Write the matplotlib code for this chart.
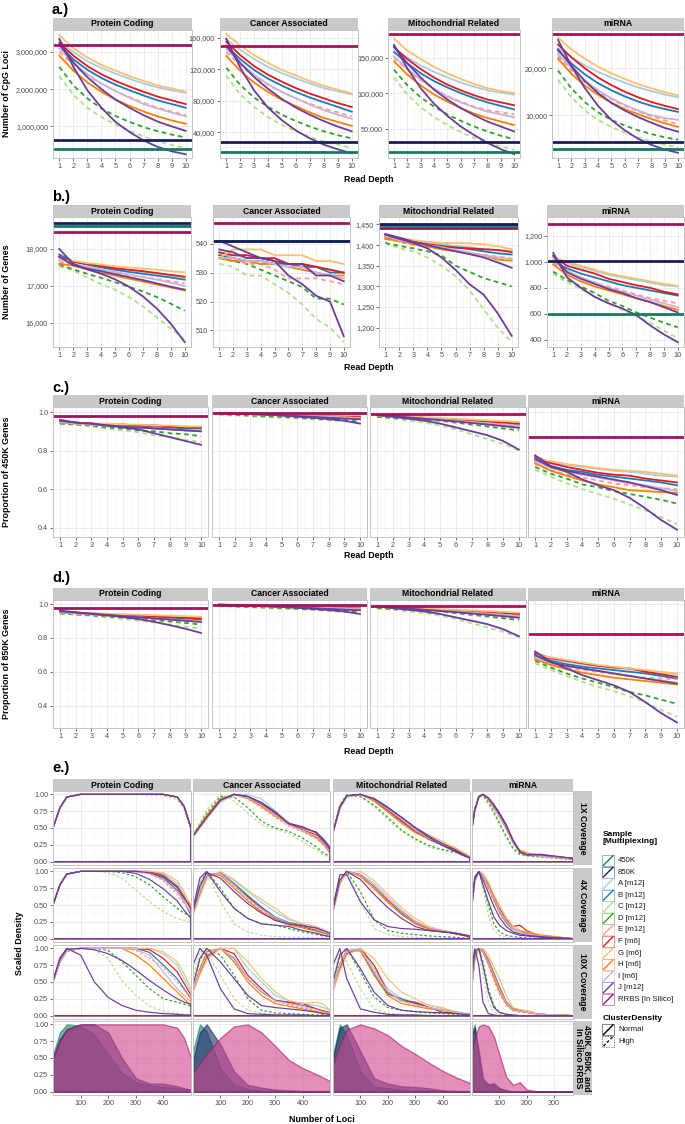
import numpy as np
import matplotlib
matplotlib.use("Agg")
import matplotlib.pyplot as plt
from matplotlib.patches import Rectangle

plt.rcParams['font.family'] = ['Liberation Sans', 'DejaVu Sans']

W, H = 685, 1124
DEPTH = np.arange(1, 11)
FACETS = ["Protein Coding", "Cancer Associated", "Mitochondrial Related", "miRNA"]
SAMPLES = ["A", "B", "C", "D", "E", "F", "G", "H", "I", "J", "J2"]
DASHED = {"C", "D", "E"}
COL = {"450K": "#137a62", "850K": "#161f5c", "RRBS": "#a3135b",
       "A": "#a6cee3", "B": "#1f78b4", "C": "#b2df8a", "D": "#33a02c",
       "E": "#fb9a99", "F": "#e31a1c", "G": "#fdbf6f", "H": "#ff7f00",
       "I": "#cab2d6", "J": "#6a3d9a", "J2": "#6a3d9a"}
FILL = {"450K": "#1d7f7a", "850K": "#1c2b66", "RRBS": "#d2438f"}

# ---------------- a.) number of CpG loci (thousands) ----------------
a_pc = dict(
    A=[3300, 3000, 2750, 2570, 2420, 2280, 2150, 2050, 1970, 1900],
    B=[3200, 2800, 2520, 2300, 2120, 1970, 1830, 1700, 1600, 1500],
    C=[2350, 1850, 1500, 1250, 1050, 880, 730, 600, 500, 420],
    D=[2600, 2100, 1750, 1480, 1280, 1120, 980, 870, 780, 700],
    E=[3000, 2650, 2350, 2150, 1950, 1780, 1630, 1500, 1400, 1300],
    F=[3250, 2900, 2620, 2400, 2220, 2070, 1930, 1800, 1700, 1600],
    G=[3450, 3100, 2850, 2650, 2500, 2350, 2220, 2100, 2020, 1930],
    H=[2900, 2500, 2180, 1930, 1720, 1550, 1400, 1270, 1160, 1070],
    I=[3100, 2700, 2400, 2150, 1950, 1770, 1600, 1480, 1370, 1270],
    J=[3350, 2600, 1970, 1500, 1120, 850, 620, 450, 330, 250],
    J2=[3200, 2720, 2320, 2000, 1720, 1500, 1300, 1130, 1000, 880])
a_ca = dict(
    A=[158, 145, 133, 123, 115, 108, 102, 96, 92, 88],
    B=[150, 133, 119, 108, 99, 91, 84, 78, 72, 66],
    C=[112, 88, 72, 59, 49, 41, 34, 28, 24, 20],
    D=[122, 100, 84, 72, 62, 54, 47, 41, 36, 32],
    E=[142, 125, 111, 100, 91, 83, 76, 70, 65, 60],
    F=[155, 138, 124, 113, 104, 96, 89, 83, 77, 72],
    G=[165, 150, 138, 128, 119, 112, 105, 99, 94, 89],
    H=[137, 118, 103, 91, 81, 73, 65, 58, 53, 48],
    I=[146, 128, 113, 101, 91, 83, 75, 68, 62, 57],
    J=[159, 122, 93, 71, 55, 42, 32, 24, 18, 13],
    J2=[150, 128, 110, 95, 82, 71, 62, 54, 47, 41])
a_mr = dict(
    A=[162, 150, 139, 130, 122, 115, 109, 104, 101, 98],
    B=[158, 142, 128, 117, 108, 100, 93, 87, 82, 77],
    C=[122, 98, 80, 66, 55, 45, 37, 30, 25, 20],
    D=[133, 111, 94, 81, 70, 61, 53, 46, 40, 35],
    E=[150, 133, 118, 106, 96, 88, 81, 76, 73, 70],
    F=[165, 148, 134, 122, 112, 104, 97, 91, 87, 83],
    G=[177, 160, 148, 137, 128, 120, 113, 107, 103, 100],
    H=[145, 126, 111, 98, 88, 79, 71, 65, 60, 55],
    I=[152, 134, 119, 106, 95, 87, 80, 74, 70, 66],
    J=[168, 135, 107, 85, 68, 53, 41, 30, 21, 14],
    J2=[166, 142, 122, 105, 91, 79, 69, 60, 53, 46])
a_mi = dict(
    A=[24.2, 22.3, 20.6, 19.2, 18.0, 16.9, 15.9, 15.1, 14.4, 13.8],
    B=[23.7, 21.0, 18.7, 16.8, 15.3, 14.0, 12.9, 12.0, 11.3, 10.7],
    C=[17.5, 13.8, 11.0, 9.0, 7.5, 6.3, 5.3, 4.4, 3.7, 3.2],
    D=[19.5, 15.7, 12.8, 10.6, 9.0, 7.8, 6.8, 6.0, 5.3, 4.8],
    E=[22.5, 19.5, 17.0, 15.0, 13.4, 12.0, 10.8, 9.8, 8.9, 8.1],
    F=[25.0, 22.3, 20.0, 18.0, 16.4, 15.0, 13.8, 12.8, 12.0, 11.3],
    G=[26.5, 24.0, 22.0, 20.3, 18.9, 17.7, 16.6, 15.7, 14.9, 14.2],
    H=[22.0, 18.8, 16.3, 14.3, 12.7, 11.3, 10.2, 9.2, 8.3, 7.5],
    I=[23.0, 20.0, 17.4, 15.3, 13.6, 12.2, 11.0, 10.0, 9.4, 9.0],
    J=[26.0, 20.5, 15.8, 12.0, 9.0, 6.8, 5.0, 3.7, 2.7, 2.0],
    J2=[24.0, 20.5, 17.3, 14.7, 12.6, 11.0, 9.6, 8.4, 7.3, 6.5])
a_ref = [{"450K": 400, "850K": 630, "RRBS": 3200},
         {"450K": 15, "850K": 27, "RRBS": 149},
         {"450K": 17.6, "850K": 31.6, "RRBS": 183},
         {"450K": 2.8, "850K": 4.2, "RRBS": 27.3}]

# ---------------- b.) number of genes ----------------
b_pc = dict(
    A=[17720, 17650, 17590, 17540, 17480, 17430, 17380, 17330, 17280, 17230],
    B=[17850, 17660, 17580, 17500, 17440, 17380, 17330, 17280, 17230, 17170],
    C=[17530, 17420, 17230, 17050, 16900, 16700, 16450, 16150, 15850, 15550],
    D=[17580, 17450, 17330, 17220, 17100, 16980, 16850, 16700, 16520, 16330],
    E=[17650, 17580, 17500, 17430, 17360, 17300, 17250, 17190, 17130, 17070],
    F=[17780, 17650, 17600, 17540, 17480, 17440, 17400, 17350, 17300, 17250],
    G=[17700, 17680, 17620, 17580, 17530, 17500, 17470, 17440, 17400, 17370],
    H=[17600, 17550, 17450, 17360, 17280, 17200, 17120, 17040, 16960, 16880],
    I=[17720, 17600, 17520, 17450, 17380, 17310, 17240, 17170, 17090, 17000],
    J=[18000, 17600, 17450, 17330, 17180, 16980, 16720, 16390, 15980, 15480],
    J2=[17800, 17560, 17470, 17400, 17320, 17240, 17160, 17070, 16980, 16900])
b_ca = dict(
    A=[536, 536, 535, 535, 534, 533, 532, 532, 531, 530],
    B=[536, 535, 534, 534, 533, 533, 532, 532, 530, 530],
    C=[533, 532, 529, 529, 526, 523, 519, 514, 511, 506],
    D=[535, 534, 533, 531, 529, 527, 525, 521, 521, 519],
    E=[537, 535, 533, 533, 531, 528, 528, 528, 527, 526],
    F=[537, 536, 536, 535, 535, 533, 533, 532, 531, 530],
    G=[535, 538, 538, 538, 536, 536, 536, 534, 534, 533],
    H=[535, 534, 534, 533, 533, 532, 531, 530, 529, 529],
    I=[535, 535, 534, 534, 533, 532, 532, 530, 529, 528],
    J=[541, 539, 537, 535, 534, 529, 526, 522, 520, 508],
    J2=[538, 537, 535, 535, 534, 533, 533, 529, 529, 527])
b_mr = dict(
    A=[1425, 1415, 1410, 1405, 1402, 1398, 1395, 1390, 1388, 1385],
    B=[1418, 1410, 1404, 1400, 1396, 1394, 1390, 1385, 1380, 1377],
    C=[1405, 1392, 1385, 1370, 1350, 1325, 1290, 1245, 1200, 1165],
    D=[1405, 1398, 1392, 1385, 1375, 1350, 1335, 1320, 1310, 1300],
    E=[1415, 1408, 1400, 1395, 1390, 1385, 1380, 1376, 1372, 1368],
    F=[1420, 1412, 1408, 1402, 1398, 1394, 1392, 1390, 1388, 1383],
    G=[1420, 1418, 1412, 1408, 1405, 1405, 1404, 1402, 1397, 1390],
    H=[1415, 1410, 1402, 1397, 1390, 1385, 1380, 1375, 1365, 1362],
    I=[1422, 1412, 1405, 1400, 1395, 1388, 1382, 1375, 1370, 1365],
    J=[1425, 1415, 1405, 1392, 1370, 1340, 1305, 1280, 1235, 1180],
    J2=[1427, 1418, 1408, 1400, 1392, 1385, 1378, 1370, 1358, 1345])
b_mi = dict(
    A=[1020, 990, 960, 930, 900, 880, 860, 840, 820, 810],
    B=[1000, 950, 910, 880, 850, 820, 800, 780, 760, 740],
    C=[910, 840, 790, 730, 680, 630, 580, 530, 470, 410],
    D=[925, 860, 810, 760, 700, 660, 610, 570, 530, 495],
    E=[990, 930, 880, 840, 810, 780, 750, 720, 700, 680],
    F=[1040, 970, 940, 910, 870, 845, 820, 800, 770, 750],
    G=[1040, 1000, 970, 940, 910, 890, 870, 850, 830, 815],
    H=[980, 900, 850, 810, 780, 750, 720, 690, 660, 630],
    I=[1000, 930, 880, 840, 800, 770, 740, 710, 680, 650],
    J=[1070, 880, 800, 730, 680, 640, 590, 510, 440, 380],
    J2=[1050, 920, 870, 830, 790, 760, 720, 690, 650, 610])
b_ref = [{"450K": 18620, "850K": 18690, "RRBS": 18460},
         {"450K": 541, "850K": 541, "RRBS": 547},
         {"450K": 1448, "850K": 1452, "RRBS": 1442},
         {"450K": 600, "850K": 1010, "RRBS": 1296}]

# ---------------- c.) proportion of 450K genes ----------------
c_pc = dict(
    A=[0.950, 0.945, 0.940, 0.935, 0.935, 0.930, 0.930, 0.925, 0.925, 0.920],
    B=[0.950, 0.945, 0.940, 0.935, 0.930, 0.930, 0.925, 0.920, 0.915, 0.915],
    C=[0.940, 0.935, 0.925, 0.915, 0.905, 0.895, 0.880, 0.870, 0.855, 0.845],
    D=[0.940, 0.935, 0.930, 0.920, 0.915, 0.905, 0.900, 0.890, 0.885, 0.875],
    E=[0.945, 0.940, 0.935, 0.930, 0.925, 0.920, 0.915, 0.910, 0.905, 0.900],
    F=[0.950, 0.945, 0.940, 0.935, 0.935, 0.930, 0.930, 0.925, 0.920, 0.920],
    G=[0.950, 0.945, 0.940, 0.940, 0.935, 0.935, 0.930, 0.930, 0.925, 0.925],
    H=[0.945, 0.940, 0.935, 0.930, 0.925, 0.920, 0.915, 0.910, 0.905, 0.900],
    I=[0.950, 0.940, 0.935, 0.930, 0.925, 0.920, 0.915, 0.910, 0.905, 0.905],
    J=[0.960, 0.945, 0.940, 0.930, 0.920, 0.910, 0.890, 0.870, 0.850, 0.830],
    J2=[0.955, 0.945, 0.940, 0.930, 0.925, 0.920, 0.915, 0.910, 0.905, 0.900])
c_ca = dict(
    A=[0.995, 0.993, 0.991, 0.989, 0.987, 0.985, 0.983, 0.981, 0.979, 0.977],
    B=[0.995, 0.992, 0.990, 0.988, 0.986, 0.984, 0.981, 0.978, 0.975, 0.972],
    C=[0.985, 0.982, 0.978, 0.975, 0.971, 0.967, 0.962, 0.957, 0.951, 0.945],
    D=[0.990, 0.986, 0.982, 0.978, 0.975, 0.971, 0.967, 0.962, 0.957, 0.951],
    E=[0.993, 0.990, 0.987, 0.984, 0.981, 0.978, 0.975, 0.971, 0.968, 0.965],
    F=[0.996, 0.994, 0.992, 0.990, 0.988, 0.986, 0.984, 0.981, 0.979, 0.976],
    G=[0.996, 0.995, 0.994, 0.992, 0.991, 0.990, 0.988, 0.986, 0.985, 0.983],
    H=[0.994, 0.991, 0.989, 0.986, 0.984, 0.981, 0.978, 0.976, 0.973, 0.970],
    I=[0.995, 0.992, 0.989, 0.987, 0.984, 0.981, 0.978, 0.975, 0.972, 0.968],
    J=[0.995, 0.992, 0.990, 0.986, 0.982, 0.976, 0.970, 0.963, 0.955, 0.940],
    J2=[0.995, 0.993, 0.990, 0.987, 0.983, 0.979, 0.975, 0.970, 0.966, 0.962])
c_mr = dict(
    A=[0.985, 0.980, 0.975, 0.970, 0.965, 0.960, 0.955, 0.950, 0.945, 0.940],
    B=[0.985, 0.979, 0.973, 0.967, 0.962, 0.956, 0.950, 0.944, 0.938, 0.932],
    C=[0.975, 0.965, 0.955, 0.945, 0.930, 0.910, 0.885, 0.860, 0.835, 0.800],
    D=[0.975, 0.970, 0.965, 0.960, 0.955, 0.945, 0.935, 0.925, 0.915, 0.905],
    E=[0.982, 0.976, 0.970, 0.964, 0.958, 0.951, 0.944, 0.937, 0.930, 0.923],
    F=[0.985, 0.980, 0.975, 0.970, 0.965, 0.960, 0.955, 0.950, 0.945, 0.940],
    G=[0.985, 0.981, 0.977, 0.973, 0.969, 0.965, 0.961, 0.957, 0.953, 0.948],
    H=[0.983, 0.977, 0.971, 0.965, 0.959, 0.953, 0.947, 0.941, 0.935, 0.930],
    I=[0.984, 0.978, 0.972, 0.966, 0.960, 0.954, 0.948, 0.942, 0.936, 0.928],
    J=[0.985, 0.975, 0.965, 0.955, 0.940, 0.920, 0.900, 0.880, 0.850, 0.805],
    J2=[0.985, 0.979, 0.972, 0.965, 0.958, 0.951, 0.943, 0.935, 0.927, 0.918])
c_mi = dict(
    A=[0.755, 0.735, 0.725, 0.715, 0.705, 0.695, 0.690, 0.680, 0.670, 0.665],
    B=[0.750, 0.720, 0.700, 0.690, 0.675, 0.665, 0.655, 0.645, 0.635, 0.620],
    C=[0.700, 0.665, 0.630, 0.600, 0.575, 0.550, 0.520, 0.490, 0.455, 0.420],
    D=[0.715, 0.680, 0.655, 0.625, 0.610, 0.590, 0.575, 0.560, 0.545, 0.525],
    E=[0.730, 0.700, 0.675, 0.660, 0.645, 0.630, 0.620, 0.610, 0.605, 0.600],
    F=[0.770, 0.735, 0.715, 0.700, 0.685, 0.675, 0.670, 0.655, 0.645, 0.635],
    G=[0.760, 0.745, 0.730, 0.720, 0.710, 0.700, 0.695, 0.690, 0.680, 0.670],
    H=[0.735, 0.695, 0.670, 0.645, 0.625, 0.610, 0.595, 0.590, 0.585, 0.580],
    I=[0.745, 0.710, 0.690, 0.675, 0.660, 0.645, 0.630, 0.620, 0.605, 0.590],
    J=[0.775, 0.720, 0.690, 0.650, 0.620, 0.595, 0.555, 0.500, 0.440, 0.390],
    J2=[0.760, 0.715, 0.695, 0.680, 0.665, 0.650, 0.635, 0.615, 0.595, 0.570])
c_ref = [{"RRBS": 0.978}, {"RRBS": 0.996}, {"RRBS": 0.99}, {"RRBS": 0.871}]

# ---------------- d.) proportion of 850K genes ----------------
d_pc = dict(
    A=[0.955, 0.950, 0.945, 0.941, 0.937, 0.933, 0.929, 0.925, 0.921, 0.918],
    B=[0.955, 0.949, 0.943, 0.938, 0.933, 0.928, 0.923, 0.918, 0.914, 0.910],
    C=[0.945, 0.938, 0.931, 0.922, 0.913, 0.903, 0.892, 0.880, 0.868, 0.855],
    D=[0.945, 0.940, 0.934, 0.928, 0.921, 0.914, 0.906, 0.898, 0.889, 0.880],
    E=[0.950, 0.944, 0.938, 0.932, 0.926, 0.920, 0.914, 0.908, 0.902, 0.897],
    F=[0.955, 0.950, 0.945, 0.940, 0.936, 0.932, 0.928, 0.924, 0.920, 0.916],
    G=[0.955, 0.951, 0.947, 0.944, 0.941, 0.938, 0.935, 0.932, 0.929, 0.926],
    H=[0.952, 0.946, 0.940, 0.934, 0.928, 0.922, 0.916, 0.910, 0.905, 0.900],
    I=[0.953, 0.947, 0.941, 0.935, 0.929, 0.923, 0.917, 0.911, 0.905, 0.900],
    J=[0.962, 0.952, 0.943, 0.934, 0.924, 0.912, 0.896, 0.876, 0.855, 0.830],
    J2=[0.958, 0.951, 0.944, 0.937, 0.930, 0.923, 0.916, 0.909, 0.902, 0.895])
d_ca = dict(
    A=[0.997, 0.995, 0.993, 0.991, 0.989, 0.987, 0.985, 0.983, 0.981, 0.979],
    B=[0.997, 0.994, 0.992, 0.990, 0.988, 0.986, 0.983, 0.980, 0.977, 0.974],
    C=[0.988, 0.985, 0.981, 0.978, 0.974, 0.970, 0.965, 0.960, 0.954, 0.948],
    D=[0.992, 0.988, 0.984, 0.981, 0.978, 0.974, 0.970, 0.965, 0.960, 0.954],
    E=[0.995, 0.992, 0.989, 0.986, 0.983, 0.980, 0.977, 0.973, 0.970, 0.967],
    F=[0.998, 0.996, 0.994, 0.992, 0.990, 0.988, 0.986, 0.983, 0.981, 0.978],
    G=[0.998, 0.997, 0.996, 0.994, 0.993, 0.992, 0.990, 0.988, 0.987, 0.985],
    H=[0.996, 0.993, 0.991, 0.988, 0.986, 0.983, 0.980, 0.978, 0.975, 0.972],
    I=[0.997, 0.994, 0.991, 0.989, 0.986, 0.983, 0.980, 0.977, 0.974, 0.970],
    J=[0.997, 0.994, 0.992, 0.988, 0.984, 0.978, 0.972, 0.965, 0.957, 0.942],
    J2=[0.997, 0.995, 0.992, 0.989, 0.985, 0.981, 0.977, 0.972, 0.968, 0.964])
d_mr = dict(
    A=[0.987, 0.982, 0.977, 0.972, 0.967, 0.962, 0.957, 0.952, 0.947, 0.942],
    B=[0.987, 0.981, 0.975, 0.969, 0.964, 0.958, 0.952, 0.946, 0.940, 0.934],
    C=[0.977, 0.967, 0.957, 0.947, 0.932, 0.912, 0.887, 0.862, 0.837, 0.805],
    D=[0.977, 0.972, 0.967, 0.962, 0.957, 0.947, 0.937, 0.927, 0.917, 0.907],
    E=[0.984, 0.978, 0.972, 0.966, 0.960, 0.953, 0.946, 0.939, 0.932, 0.925],
    F=[0.987, 0.982, 0.977, 0.972, 0.967, 0.962, 0.957, 0.952, 0.947, 0.942],
    G=[0.987, 0.983, 0.979, 0.975, 0.971, 0.967, 0.963, 0.959, 0.955, 0.950],
    H=[0.985, 0.979, 0.973, 0.967, 0.961, 0.955, 0.949, 0.943, 0.937, 0.932],
    I=[0.986, 0.980, 0.974, 0.968, 0.962, 0.956, 0.950, 0.944, 0.938, 0.930],
    J=[0.987, 0.977, 0.967, 0.957, 0.942, 0.922, 0.902, 0.882, 0.852, 0.810],
    J2=[0.987, 0.981, 0.974, 0.967, 0.960, 0.953, 0.945, 0.937, 0.929, 0.920])
d_mi = dict(
    A=[0.695, 0.675, 0.660, 0.645, 0.635, 0.625, 0.615, 0.605, 0.595, 0.585],
    B=[0.690, 0.665, 0.645, 0.630, 0.620, 0.610, 0.600, 0.590, 0.575, 0.560],
    C=[0.650, 0.610, 0.575, 0.540, 0.510, 0.485, 0.455, 0.420, 0.375, 0.335],
    D=[0.665, 0.625, 0.590, 0.560, 0.535, 0.510, 0.480, 0.460, 0.435, 0.410],
    E=[0.675, 0.645, 0.625, 0.610, 0.600, 0.585, 0.575, 0.565, 0.560, 0.555],
    F=[0.710, 0.680, 0.665, 0.650, 0.635, 0.625, 0.620, 0.600, 0.585, 0.570],
    G=[0.700, 0.685, 0.670, 0.655, 0.640, 0.630, 0.620, 0.610, 0.600, 0.590],
    H=[0.675, 0.640, 0.615, 0.595, 0.580, 0.565, 0.555, 0.545, 0.535, 0.525],
    I=[0.685, 0.655, 0.635, 0.620, 0.605, 0.590, 0.575, 0.560, 0.550, 0.535],
    J=[0.720, 0.660, 0.620, 0.580, 0.550, 0.520, 0.480, 0.420, 0.355, 0.300],
    J2=[0.700, 0.655, 0.635, 0.620, 0.605, 0.590, 0.575, 0.560, 0.545, 0.530])
d_ref = [{"RRBS": 0.98}, {"RRBS": 0.998}, {"RRBS": 0.99}, {"RRBS": 0.825}]

# ---------------- e.) scaled density of loci per gene ----------------
XG = [0, 25, 50, 100, 150, 200, 250, 300, 350, 400, 450, 475, 500]
XM = [0, 10, 25, 40, 60, 80, 100, 125, 150, 175, 200, 250, 369]

plateau_1x = [0.50, 0.80, 0.96, 1.00, 1.00, 1.00, 1.00, 1.00, 1.00, 1.00, 0.96, 0.82, 0.50]
e1_pc = {s: plateau_1x for s in SAMPLES}
e1_pc["C"] = [0.50, 0.80, 0.96, 1.00, 1.00, 1.00, 1.00, 1.00, 0.99, 0.98, 0.92, 0.78, 0.46]
e1_ca = dict(
    A=[0.38, 0.50, 0.63, 0.88, 0.99, 1.00, 0.93, 0.76, 0.58, 0.47, 0.36, 0.27, 0.17],
    B=[0.37, 0.51, 0.65, 0.91, 1.00, 0.95, 0.84, 0.70, 0.56, 0.47, 0.37, 0.29, 0.19],
    C=[0.42, 0.58, 0.77, 1.00, 0.90, 0.72, 0.55, 0.48, 0.42, 0.30, 0.18, 0.10, 0.06],
    D=[0.40, 0.55, 0.72, 0.97, 0.96, 0.80, 0.60, 0.50, 0.45, 0.35, 0.22, 0.13, 0.08],
    E=[0.39, 0.53, 0.68, 0.93, 1.00, 0.93, 0.80, 0.66, 0.52, 0.44, 0.34, 0.25, 0.14],
    F=[0.38, 0.52, 0.66, 0.92, 1.00, 0.96, 0.85, 0.72, 0.56, 0.47, 0.40, 0.30, 0.16],
    G=[0.37, 0.50, 0.64, 0.90, 1.00, 0.97, 0.88, 0.74, 0.58, 0.49, 0.42, 0.33, 0.20],
    H=[0.39, 0.54, 0.69, 0.94, 1.00, 0.94, 0.82, 0.68, 0.55, 0.46, 0.36, 0.26, 0.13],
    I=[0.38, 0.52, 0.66, 0.92, 1.00, 0.95, 0.84, 0.70, 0.55, 0.46, 0.38, 0.28, 0.15],
    J=[0.38, 0.52, 0.66, 0.92, 1.00, 0.97, 0.88, 0.74, 0.56, 0.50, 0.44, 0.34, 0.22],
    J2=[0.38, 0.52, 0.66, 0.91, 1.00, 0.97, 0.87, 0.73, 0.57, 0.52, 0.43, 0.32, 0.19])
e1_mr = dict(
    A=[0.42, 0.78, 0.96, 1.00, 0.93, 0.79, 0.64, 0.48, 0.36, 0.26, 0.17, 0.12, 0.07],
    B=[0.43, 0.80, 0.97, 1.00, 0.91, 0.76, 0.60, 0.45, 0.33, 0.24, 0.15, 0.11, 0.06],
    C=[0.46, 0.85, 1.00, 0.96, 0.82, 0.62, 0.45, 0.32, 0.22, 0.16, 0.12, 0.09, 0.05],
    D=[0.45, 0.84, 0.99, 0.97, 0.84, 0.66, 0.47, 0.34, 0.24, 0.18, 0.14, 0.10, 0.06],
    E=[0.44, 0.81, 0.98, 1.00, 0.90, 0.74, 0.58, 0.44, 0.32, 0.24, 0.16, 0.11, 0.06],
    F=[0.43, 0.80, 0.97, 1.00, 0.92, 0.77, 0.61, 0.46, 0.34, 0.25, 0.16, 0.11, 0.06],
    G=[0.42, 0.78, 0.96, 1.00, 0.93, 0.80, 0.65, 0.50, 0.40, 0.30, 0.20, 0.14, 0.08],
    H=[0.44, 0.81, 0.98, 1.00, 0.90, 0.74, 0.57, 0.43, 0.34, 0.27, 0.18, 0.12, 0.06],
    I=[0.43, 0.80, 0.97, 1.00, 0.92, 0.78, 0.63, 0.47, 0.35, 0.26, 0.18, 0.12, 0.07],
    J=[0.44, 0.81, 0.98, 1.00, 0.94, 0.81, 0.66, 0.50, 0.36, 0.24, 0.14, 0.09, 0.05],
    J2=[0.44, 0.81, 0.98, 1.00, 0.93, 0.80, 0.66, 0.51, 0.38, 0.27, 0.17, 0.11, 0.06])
e1_mi = dict(
    A=[0.50, 0.75, 0.95, 1.00, 0.94, 0.82, 0.70, 0.52, 0.30, 0.15, 0.10, 0.08, 0.04],
    B=[0.50, 0.76, 0.96, 1.00, 0.93, 0.80, 0.68, 0.50, 0.28, 0.14, 0.10, 0.09, 0.05],
    C=[0.52, 0.80, 0.98, 0.98, 0.85, 0.70, 0.55, 0.35, 0.18, 0.10, 0.08, 0.07, 0.03],
    D=[0.52, 0.79, 0.98, 0.99, 0.88, 0.74, 0.58, 0.38, 0.20, 0.11, 0.09, 0.07, 0.03],
    E=[0.51, 0.77, 0.96, 1.00, 0.92, 0.79, 0.66, 0.48, 0.27, 0.14, 0.11, 0.08, 0.04],
    F=[0.50, 0.76, 0.96, 1.00, 0.93, 0.81, 0.69, 0.51, 0.30, 0.16, 0.12, 0.10, 0.04],
    G=[0.49, 0.74, 0.94, 1.00, 0.95, 0.84, 0.72, 0.55, 0.33, 0.17, 0.12, 0.09, 0.05],
    H=[0.50, 0.76, 0.96, 1.00, 0.93, 0.80, 0.68, 0.50, 0.29, 0.17, 0.13, 0.08, 0.04],
    I=[0.50, 0.76, 0.96, 1.00, 0.93, 0.81, 0.68, 0.51, 0.29, 0.14, 0.10, 0.08, 0.04],
    J=[0.50, 0.77, 0.97, 1.00, 0.95, 0.85, 0.73, 0.55, 0.32, 0.14, 0.10, 0.11, 0.05],
    J2=[0.50, 0.76, 0.96, 1.00, 0.94, 0.83, 0.71, 0.53, 0.31, 0.15, 0.10, 0.10, 0.05])

e2_pc = dict(
    A=[0.50, 0.80, 0.96, 1.00, 1.00, 1.00, 1.00, 1.00, 1.00, 0.96, 0.82, 0.66, 0.42],
    B=[0.50, 0.80, 0.96, 1.00, 1.00, 1.00, 1.00, 1.00, 0.98, 0.90, 0.72, 0.55, 0.35],
    C=[0.50, 0.80, 0.96, 1.00, 1.00, 0.98, 0.90, 0.72, 0.55, 0.40, 0.30, 0.27, 0.25],
    D=[0.50, 0.80, 0.96, 1.00, 1.00, 1.00, 0.98, 0.92, 0.80, 0.62, 0.45, 0.38, 0.33],
    E=[0.50, 0.80, 0.96, 1.00, 1.00, 1.00, 1.00, 1.00, 0.96, 0.86, 0.66, 0.52, 0.40],
    F=[0.50, 0.80, 0.96, 1.00, 1.00, 1.00, 1.00, 1.00, 1.00, 0.94, 0.78, 0.62, 0.44],
    G=[0.50, 0.80, 0.96, 1.00, 1.00, 1.00, 1.00, 1.00, 1.00, 0.98, 0.86, 0.70, 0.48],
    H=[0.50, 0.80, 0.96, 1.00, 1.00, 1.00, 1.00, 1.00, 0.97, 0.88, 0.70, 0.60, 0.50],
    I=[0.50, 0.80, 0.96, 1.00, 1.00, 1.00, 1.00, 1.00, 0.97, 0.88, 0.70, 0.55, 0.38],
    J=[0.50, 0.80, 0.96, 1.00, 1.00, 1.00, 1.00, 0.97, 0.88, 0.74, 0.56, 0.42, 0.30],
    J2=[0.50, 0.80, 0.96, 1.00, 1.00, 1.00, 1.00, 1.00, 0.98, 0.92, 0.76, 0.60, 0.45])
e2_ca = dict(
    A=[0.36, 0.64, 0.90, 1.00, 0.86, 0.70, 0.54, 0.40, 0.28, 0.22, 0.18, 0.14, 0.09],
    B=[0.37, 0.68, 0.93, 0.98, 0.82, 0.64, 0.47, 0.32, 0.24, 0.20, 0.15, 0.11, 0.07],
    C=[0.45, 0.85, 1.00, 0.55, 0.22, 0.10, 0.05, 0.03, 0.02, 0.02, 0.01, 0.01, 0.00],
    D=[0.42, 0.80, 1.00, 0.75, 0.45, 0.30, 0.22, 0.20, 0.15, 0.10, 0.06, 0.04, 0.03],
    E=[0.38, 0.70, 0.95, 0.96, 0.78, 0.58, 0.42, 0.30, 0.22, 0.18, 0.13, 0.10, 0.06],
    F=[0.38, 0.70, 0.95, 0.97, 0.80, 0.62, 0.45, 0.30, 0.22, 0.18, 0.12, 0.09, 0.07],
    G=[0.35, 0.62, 0.88, 1.00, 0.88, 0.72, 0.58, 0.45, 0.30, 0.22, 0.18, 0.12, 0.08],
    H=[0.39, 0.72, 0.96, 0.94, 0.75, 0.56, 0.40, 0.28, 0.20, 0.16, 0.11, 0.08, 0.05],
    I=[0.38, 0.70, 0.95, 0.97, 0.80, 0.60, 0.44, 0.31, 0.23, 0.19, 0.14, 0.10, 0.07],
    J=[0.45, 0.90, 1.00, 0.70, 0.45, 0.30, 0.22, 0.20, 0.18, 0.12, 0.08, 0.05, 0.03],
    J2=[0.40, 0.78, 0.98, 0.90, 0.70, 0.52, 0.38, 0.27, 0.22, 0.19, 0.16, 0.12, 0.08])
e2_mr = dict(
    A=[0.40, 0.82, 1.00, 0.96, 0.82, 0.62, 0.42, 0.26, 0.16, 0.12, 0.08, 0.06, 0.04],
    B=[0.41, 0.84, 1.00, 0.95, 0.78, 0.57, 0.38, 0.24, 0.15, 0.12, 0.07, 0.05, 0.03],
    C=[0.46, 0.90, 1.00, 0.55, 0.15, 0.06, 0.03, 0.02, 0.01, 0.01, 0.01, 0.00, 0.00],
    D=[0.44, 0.88, 1.00, 0.70, 0.28, 0.12, 0.08, 0.06, 0.04, 0.03, 0.02, 0.01, 0.01],
    E=[0.42, 0.85, 1.00, 0.92, 0.74, 0.54, 0.36, 0.22, 0.14, 0.10, 0.06, 0.04, 0.03],
    F=[0.41, 0.84, 1.00, 0.95, 0.78, 0.58, 0.40, 0.25, 0.15, 0.11, 0.07, 0.05, 0.04],
    G=[0.39, 0.80, 0.98, 1.00, 0.86, 0.66, 0.46, 0.30, 0.18, 0.12, 0.08, 0.06, 0.04],
    H=[0.42, 0.86, 1.00, 0.93, 0.74, 0.54, 0.36, 0.22, 0.14, 0.12, 0.08, 0.05, 0.03],
    I=[0.41, 0.84, 1.00, 0.95, 0.79, 0.59, 0.40, 0.25, 0.16, 0.12, 0.08, 0.06, 0.04],
    J=[0.48, 0.95, 0.95, 0.55, 0.28, 0.18, 0.15, 0.14, 0.12, 0.10, 0.08, 0.05, 0.03],
    J2=[0.43, 0.87, 1.00, 0.88, 0.66, 0.46, 0.30, 0.18, 0.12, 0.10, 0.08, 0.06, 0.04])
e2_mi = dict(
    A=[0.50, 0.85, 1.00, 0.95, 0.80, 0.62, 0.45, 0.27, 0.14, 0.10, 0.08, 0.04, 0.00],
    B=[0.50, 0.86, 1.00, 0.94, 0.78, 0.58, 0.40, 0.24, 0.14, 0.11, 0.08, 0.03, 0.00],
    C=[0.55, 0.90, 1.00, 0.75, 0.35, 0.12, 0.05, 0.02, 0.01, 0.01, 0.00, 0.00, 0.00],
    D=[0.53, 0.88, 1.00, 0.82, 0.48, 0.22, 0.10, 0.05, 0.03, 0.02, 0.01, 0.00, 0.00],
    E=[0.51, 0.86, 1.00, 0.92, 0.74, 0.55, 0.38, 0.22, 0.12, 0.09, 0.06, 0.03, 0.00],
    F=[0.50, 0.85, 1.00, 0.95, 0.80, 0.62, 0.45, 0.28, 0.18, 0.20, 0.12, 0.04, 0.00],
    G=[0.49, 0.84, 1.00, 0.97, 0.84, 0.66, 0.50, 0.32, 0.18, 0.12, 0.10, 0.06, 0.00],
    H=[0.50, 0.86, 1.00, 0.93, 0.76, 0.58, 0.42, 0.26, 0.15, 0.11, 0.09, 0.05, 0.00],
    I=[0.50, 0.85, 1.00, 0.94, 0.78, 0.60, 0.43, 0.26, 0.15, 0.10, 0.07, 0.04, 0.00],
    J=[0.55, 0.92, 1.00, 0.80, 0.55, 0.32, 0.20, 0.12, 0.08, 0.05, 0.04, 0.02, 0.00],
    J2=[0.52, 0.88, 1.00, 0.88, 0.68, 0.48, 0.32, 0.18, 0.10, 0.07, 0.05, 0.03, 0.00])

e3_pc = dict(
    A=[0.50, 0.80, 0.96, 1.00, 1.00, 1.00, 1.00, 1.00, 1.00, 0.92, 0.75, 0.55, 0.35],
    B=[0.50, 0.80, 0.96, 1.00, 1.00, 1.00, 1.00, 1.00, 0.94, 0.75, 0.55, 0.40, 0.25],
    C=[0.52, 0.84, 0.98, 1.00, 0.98, 0.85, 0.52, 0.30, 0.14, 0.07, 0.03, 0.02, 0.02],
    D=[0.51, 0.82, 0.97, 1.00, 1.00, 0.97, 0.80, 0.60, 0.40, 0.25, 0.20, 0.17, 0.14],
    E=[0.50, 0.80, 0.96, 1.00, 1.00, 1.00, 1.00, 0.97, 0.85, 0.72, 0.50, 0.38, 0.25],
    F=[0.50, 0.80, 0.96, 1.00, 1.00, 1.00, 1.00, 1.00, 0.98, 0.85, 0.65, 0.48, 0.30],
    G=[0.50, 0.80, 0.96, 1.00, 1.00, 1.00, 1.00, 1.00, 1.00, 0.95, 0.80, 0.62, 0.40],
    H=[0.50, 0.80, 0.96, 1.00, 1.00, 1.00, 1.00, 0.90, 0.75, 0.55, 0.35, 0.25, 0.15],
    I=[0.50, 0.80, 0.96, 1.00, 1.00, 1.00, 1.00, 0.98, 0.90, 0.65, 0.40, 0.30, 0.20],
    J=[0.52, 0.86, 1.00, 0.90, 0.50, 0.27, 0.15, 0.08, 0.05, 0.03, 0.02, 0.01, 0.01],
    J2=[0.51, 0.84, 0.99, 1.00, 0.98, 0.92, 0.82, 0.68, 0.52, 0.38, 0.25, 0.20, 0.17])
e3_ca = dict(
    A=[0.36, 0.62, 0.85, 1.00, 1.00, 0.70, 0.50, 0.30, 0.22, 0.18, 0.15, 0.12, 0.08],
    B=[0.37, 0.66, 0.90, 1.00, 0.85, 0.55, 0.35, 0.23, 0.20, 0.15, 0.10, 0.07, 0.04],
    C=[0.55, 0.95, 0.95, 0.60, 0.25, 0.08, 0.04, 0.02, 0.01, 0.01, 0.00, 0.00, 0.00],
    D=[0.45, 0.82, 1.00, 0.90, 0.60, 0.25, 0.08, 0.04, 0.03, 0.02, 0.01, 0.01, 0.00],
    E=[0.38, 0.68, 0.92, 1.00, 0.80, 0.55, 0.36, 0.22, 0.16, 0.12, 0.08, 0.06, 0.04],
    F=[0.36, 0.64, 0.88, 1.00, 0.92, 0.60, 0.40, 0.22, 0.20, 0.18, 0.10, 0.07, 0.05],
    G=[0.35, 0.60, 0.82, 1.00, 1.00, 0.80, 0.55, 0.35, 0.22, 0.18, 0.20, 0.17, 0.08],
    H=[0.38, 0.70, 0.95, 1.00, 0.80, 0.50, 0.30, 0.18, 0.14, 0.10, 0.06, 0.04, 0.03],
    I=[0.37, 0.66, 0.90, 1.00, 0.86, 0.56, 0.36, 0.22, 0.18, 0.14, 0.09, 0.06, 0.04],
    J=[0.75, 1.00, 0.90, 0.40, 0.10, 0.03, 0.02, 0.01, 0.01, 0.01, 0.00, 0.00, 0.00],
    J2=[0.45, 0.85, 1.00, 0.80, 0.55, 0.30, 0.15, 0.12, 0.10, 0.08, 0.05, 0.03, 0.02])
e3_mr = dict(
    A=[0.38, 0.72, 0.95, 1.00, 0.70, 0.40, 0.25, 0.20, 0.16, 0.10, 0.06, 0.04, 0.03],
    B=[0.40, 0.76, 0.97, 0.98, 0.62, 0.32, 0.25, 0.18, 0.12, 0.08, 0.05, 0.03, 0.02],
    C=[0.55, 0.95, 0.80, 0.40, 0.10, 0.03, 0.02, 0.01, 0.01, 0.00, 0.00, 0.00, 0.00],
    D=[0.50, 0.88, 1.00, 0.65, 0.28, 0.12, 0.08, 0.06, 0.04, 0.03, 0.02, 0.01, 0.01],
    E=[0.40, 0.75, 0.96, 0.98, 0.66, 0.36, 0.22, 0.16, 0.12, 0.08, 0.05, 0.03, 0.02],
    F=[0.37, 0.70, 0.92, 1.00, 0.75, 0.35, 0.22, 0.20, 0.12, 0.05, 0.04, 0.03, 0.02],
    G=[0.36, 0.66, 0.90, 1.00, 0.85, 0.55, 0.35, 0.25, 0.15, 0.12, 0.05, 0.03, 0.02],
    H=[0.40, 0.76, 0.97, 0.96, 0.60, 0.30, 0.18, 0.14, 0.10, 0.08, 0.05, 0.03, 0.02],
    I=[0.39, 0.74, 0.96, 0.99, 0.66, 0.36, 0.22, 0.16, 0.12, 0.08, 0.05, 0.03, 0.02],
    J=[0.75, 1.00, 0.55, 0.10, 0.05, 0.02, 0.01, 0.01, 0.00, 0.00, 0.00, 0.00, 0.00],
    J2=[0.50, 0.90, 1.00, 0.70, 0.35, 0.15, 0.08, 0.06, 0.05, 0.04, 0.03, 0.02, 0.01])
e3_mi = dict(
    A=[0.45, 0.82, 1.00, 0.98, 0.85, 0.65, 0.45, 0.22, 0.10, 0.08, 0.06, 0.02, 0.00],
    B=[0.48, 0.85, 1.00, 0.95, 0.78, 0.58, 0.38, 0.18, 0.08, 0.07, 0.05, 0.02, 0.00],
    C=[0.55, 0.95, 1.00, 0.60, 0.20, 0.05, 0.02, 0.01, 0.00, 0.00, 0.00, 0.00, 0.00],
    D=[0.50, 0.90, 1.00, 0.80, 0.40, 0.15, 0.05, 0.02, 0.01, 0.00, 0.00, 0.00, 0.00],
    E=[0.48, 0.86, 1.00, 0.94, 0.74, 0.52, 0.32, 0.15, 0.07, 0.05, 0.04, 0.01, 0.00],
    F=[0.46, 0.84, 1.00, 0.97, 0.82, 0.62, 0.42, 0.20, 0.10, 0.08, 0.05, 0.02, 0.00],
    G=[0.44, 0.80, 0.98, 1.00, 0.90, 0.72, 0.55, 0.30, 0.12, 0.09, 0.08, 0.02, 0.00],
    H=[0.47, 0.85, 1.00, 0.95, 0.78, 0.56, 0.36, 0.18, 0.08, 0.07, 0.05, 0.02, 0.00],
    I=[0.47, 0.85, 1.00, 0.96, 0.80, 0.60, 0.40, 0.19, 0.09, 0.07, 0.05, 0.02, 0.00],
    J=[0.70, 1.00, 0.75, 0.20, 0.03, 0.01, 0.00, 0.00, 0.00, 0.00, 0.00, 0.00, 0.00],
    J2=[0.55, 0.95, 1.00, 0.75, 0.35, 0.12, 0.05, 0.02, 0.01, 0.00, 0.00, 0.00, 0.00])

e4_pc = {"450K": [0.55, 0.88, 1.00, 0.98, 0.85, 0.55, 0.28, 0.14, 0.10, 0.07, 0.05, 0.04, 0.03],
         "850K": [0.50, 0.78, 0.93, 1.00, 1.00, 0.88, 0.50, 0.20, 0.12, 0.12, 0.08, 0.05, 0.03],
         "RRBS": [0.50, 0.75, 0.92, 1.00, 1.00, 1.00, 1.00, 1.00, 1.00, 1.00, 0.95, 0.80, 0.50]}
e4_ca = {"450K": [0.60, 1.00, 0.90, 0.35, 0.10, 0.04, 0.02, 0.01, 0.01, 0.01, 0.00, 0.00, 0.00],
         "850K": [0.45, 0.88, 1.00, 0.70, 0.30, 0.10, 0.06, 0.03, 0.02, 0.01, 0.01, 0.01, 0.01],
         "RRBS": [0.28, 0.42, 0.56, 0.80, 0.97, 1.00, 0.88, 0.68, 0.47, 0.35, 0.26, 0.21, 0.16]}
e4_mr = {"450K": [0.55, 1.00, 0.85, 0.30, 0.08, 0.05, 0.03, 0.02, 0.02, 0.01, 0.01, 0.00, 0.00],
         "850K": [0.50, 0.95, 1.00, 0.60, 0.20, 0.12, 0.08, 0.07, 0.05, 0.02, 0.01, 0.01, 0.00],
         "RRBS": [0.40, 0.70, 0.92, 1.00, 0.94, 0.84, 0.68, 0.56, 0.43, 0.31, 0.21, 0.17, 0.13]}
e4_mi = {"450K": [0.90, 1.00, 0.50, 0.15, 0.12, 0.10, 0.05, 0.02, 0.00, 0.00, 0.00, 0.00, 0.00],
         "850K": [0.85, 0.95, 0.60, 0.20, 0.10, 0.13, 0.05, 0.02, 0.00, 0.00, 0.00, 0.00, 0.00],
         "RRBS": [0.60, 0.80, 0.97, 1.00, 0.97, 0.82, 0.55, 0.22, 0.10, 0.14, 0.03, 0.00, 0.00]}

LEGEND = [("450K", "450K"), ("850K", "850K"), ("A", "A [m12]"), ("B", "B [m12]"),
          ("C", "C [m12]"), ("D", "D [m12]"), ("E", "E [m12]"), ("F", "F [m6]"),
          ("G", "G [m6]"), ("H", "H [m6]"), ("I", "I [m6]"), ("J", "J [m12]"),
          ("RRBS", "RRBS [In Silico]")]

# ---------------- layout helpers ----------------
fig = plt.figure(figsize=(W / 100, H / 100), dpi=100)
STRIP = "#c9c9c9"
TXT = "#4d4d4d"


def rect(x0, y0, x1, y1):
    return [x0 / W, 1 - y1 / H, (x1 - x0) / W, (y1 - y0) / H]


def strip(x0, y0, x1, y1, text, rot=0):
    s = fig.add_axes(rect(x0, y0, x1, y1))
    s.set_facecolor(STRIP)
    s.set_xticks([])
    s.set_yticks([])
    for sp in s.spines.values():
        sp.set_visible(False)
    s.text(0.5, 0.5, text, ha="center", va="center", rotation=rot,
           fontsize=6.2, fontweight="bold", linespacing=1.0, transform=s.transAxes)


def panel(x0, y0, x1, y1):
    ax = fig.add_axes(rect(x0, y0, x1, y1))
    for sp in ax.spines.values():
        sp.set_color("#c4c4c4")
        sp.set_linewidth(0.7)
    ax.tick_params(which="major", length=2.2, width=0.5, color="#333333",
                   labelsize=5.2, labelcolor=TXT, pad=1.3)
    ax.tick_params(which="minor", length=0)
    ax.grid(which="major", color="#e4e4e4", lw=0.5)
    ax.grid(which="minor", color="#f3f3f3", lw=0.35)
    ax.set_axisbelow(True)
    return ax


def mids(ticks):
    step = ticks[1] - ticks[0]
    return [t - step / 2 for t in ticks] + [ticks[-1] + step / 2]


def line_facet(ax, data, refs, scale, ylim, yticks, fmt):
    for s in SAMPLES:
        ls = (0, (2.6, 2.0)) if s in DASHED else "-"
        ax.plot(DEPTH, np.array(data[s]) * scale, color=COL[s], lw=1.3, ls=ls)
    for r in ["450K", "850K", "RRBS"]:
        if r in refs:
            ax.axhline(refs[r] * scale, color=COL[r], lw=2.0)
    ax.set_xlim(0.55, 10.45)
    ax.set_xticks(DEPTH)
    ax.set_xticks(DEPTH[:-1] + 0.5, minor=True)
    ax.set_yticks(yticks)
    ax.set_yticklabels([fmt(v) for v in yticks])
    ax.set_yticks(mids(yticks), minor=True)
    ax.set_ylim(*ylim)


def comma(v):
    return f"{int(round(v)):,}"


# ---------------- panel a ----------------
A_X = [(53, 192), (220, 358), (388, 520), (552, 684)]
a_data = [a_pc, a_ca, a_mr, a_mi]
a_lim = [(150000, 3590000), (7000, 170000), (8500, 189000), (900, 28100)]
a_ticks = [[1000000, 2000000, 3000000], [40000, 80000, 120000, 160000],
           [50000, 100000, 150000], [10000, 20000]]
for k in range(4):
    x0, x1 = A_X[k]
    strip(x0, 18, x1, 30, FACETS[k])
    ax = panel(x0, 30, x1, 158)
    line_facet(ax, a_data[k], a_ref[k], 1000, a_lim[k], a_ticks[k], comma)

# ---------------- panel b ----------------
B_X = [(53, 191), (213, 350), (379, 518), (547, 684)]
b_data = [b_pc, b_ca, b_mr, b_mi]
b_lim = [(15350, 18865), (504.3, 549.2), (1153, 1468), (343, 1347)]
b_ticks = [[16000, 17000, 18000], [510, 520, 530, 540],
           [1200, 1250, 1300, 1350, 1400, 1450], [400, 600, 800, 1000, 1200]]
for k in range(4):
    x0, x1 = B_X[k]
    strip(x0, 205, x1, 217, FACETS[k])
    ax = panel(x0, 217, x1, 347)
    line_facet(ax, b_data[k], b_ref[k], 1, b_lim[k], b_ticks[k], comma)

# ---------------- panels c and d (shared y) ----------------
CD_X = [(53, 208), (212, 367), (370, 526), (528, 684)]
prop_ticks = [0.4, 0.6, 0.8, 1.0]
for data, refs, sy, py, lim in [([c_pc, c_ca, c_mr, c_mi], c_ref, (395, 407), (407, 537), (0.352, 1.026)),
                                ([d_pc, d_ca, d_mr, d_mi], d_ref, (588, 600), (600, 728), (0.267, 1.025))]:
    for k in range(4):
        x0, x1 = CD_X[k]
        strip(x0, sy[0], x1, sy[1], FACETS[k])
        ax = panel(x0, py[0], x1, py[1])
        line_facet(ax, data[k], refs[k], 1, lim, prop_ticks, lambda v: f"{v:.1f}")
        if k > 0:
            ax.tick_params(axis="y", length=0, labelleft=False)

# ---------------- panel e ----------------
E_X = [(53, 191), (193, 330), (333, 470), (472, 573)]
E_ROWS = [(791, 865), (868, 942), (945, 1019), (1021, 1095)]
ROW_LAB = ["1X Coverage", "4X Coverage", "10X Coverage", "450K, 850K, and\nIn Silico RRBS"]
e_lines = [[e1_pc, e1_ca, e1_mr, e1_mi], [e2_pc, e2_ca, e2_mr, e2_mi],
           [e3_pc, e3_ca, e3_mr, e3_mi]]
e_fill = [e4_pc, e4_ca, e4_mr, e4_mi]
for k in range(4):
    strip(E_X[k][0], 779, E_X[k][1], 791, FACETS[k])
for r in range(4):
    strip(573, E_ROWS[r][0], 592, E_ROWS[r][1], ROW_LAB[r], rot=-90)
    for k in range(4):
        x0, x1 = E_X[k]
        ax = panel(x0, E_ROWS[r][0], x1, E_ROWS[r][1])
        xs = XM if k == 3 else XG
        if r < 3:
            for s in SAMPLES:
                ls = (0, (2.2, 1.8)) if s in DASHED else "-"
                ax.fill(np.r_[xs, xs[::-1]], np.r_[e_lines[r][k][s], np.zeros(len(xs))],
                        facecolor="none", edgecolor=COL[s], lw=0.85, ls=ls)
        else:
            for g in ["450K", "850K", "RRBS"]:
                ax.fill_between(xs, e_fill[k][g], 0, facecolor=FILL[g], alpha=0.6,
                                edgecolor=COL[g], lw=0.9)
        if k == 3:
            ax.set_xlim(0, 369)
            ax.set_xticks([100, 200, 300])
            ax.set_xticks([50, 150, 250, 350], minor=True)
        else:
            ax.set_xlim(0, 500)
            ax.set_xticks([100, 200, 300, 400])
            ax.set_xticks([50, 150, 250, 350, 450], minor=True)
        ax.set_ylim(-0.05, 1.05)
        ax.set_yticks([0, 0.25, 0.5, 0.75, 1.0])
        ax.set_yticks([0.125, 0.375, 0.625, 0.875], minor=True)
        ax.set_yticklabels(["0.00", "0.25", "0.50", "0.75", "1.00"])
        if k > 0:
            ax.tick_params(axis="y", length=0, labelleft=False)
        if r < 3:
            ax.tick_params(axis="x", length=0, labelbottom=False)

# ---------------- titles, labels and legend ----------------
ov = fig.add_axes([0, 0, 1, 1])
ov.set_xlim(0, W)
ov.set_ylim(H, 0)
ov.axis("off")

for lab, y in [("a.)", 10), ("b.)", 197), ("c.)", 388), ("d.)", 578), ("e.)", 768)]:
    ov.text(52, y, lab, fontsize=10.5, fontweight="bold", ha="left", va="center")

ytitles = [("Number of CpG Loci", 7, 94), ("Number of Genes", 7, 282),
           ("Proportion of 450K Genes", 7, 472), ("Proportion of 850K Genes", 7, 664),
           ("Scaled Density", 20, 943)]
for t, x, y in ytitles:
    ov.text(x, y, t, rotation=90, fontsize=6.4, fontweight="bold", ha="center", va="center")
for t, x, y in [("Read Depth", 369, 180), ("Read Depth", 369, 367), ("Read Depth", 369, 556),
                ("Read Depth", 369, 752), ("Number of Loci", 322, 1119)]:
    ov.text(x, y, t, fontsize=6.4, fontweight="bold", ha="center", va="center")

ov.text(603, 838, "Sample\n[Multiplexing]", fontsize=6, fontweight="bold",
        ha="left", va="center", linespacing=1.1)
for i, (key, lab) in enumerate(LEGEND):
    yc = 860.5 + i * 11.57
    ov.add_patch(Rectangle((602.5, yc - 5.5), 11.5, 11, facecolor="white",
                           edgecolor=COL[key], alpha=0.55, lw=0.6))
    ov.plot([603.5, 613], [yc + 4.8, yc - 4.8], color=COL[key], lw=1.0)
    ov.text(618, yc, lab, fontsize=5.6, ha="left", va="center", color="#1a1a1a")

ov.text(603, 1018, "ClusterDensity", fontsize=6, fontweight="bold", ha="left", va="center")
for i, (lab, ls) in enumerate([("Normal", "-"), ("High", (0, (2, 1.6)))]):
    yc = 1029.7 + i * 11.6
    ov.add_patch(Rectangle((602.5, yc - 5.5), 11.5, 11, facecolor="white",
                           edgecolor="#555555", lw=0.5, ls=ls))
    ov.plot([603.5, 613], [yc + 4.8, yc - 4.8], color="black", lw=1.0, ls=ls)
    ov.text(618, yc, lab, fontsize=5.6, ha="left", va="center", color="#1a1a1a")

fig.savefig("out.png", dpi=100)
